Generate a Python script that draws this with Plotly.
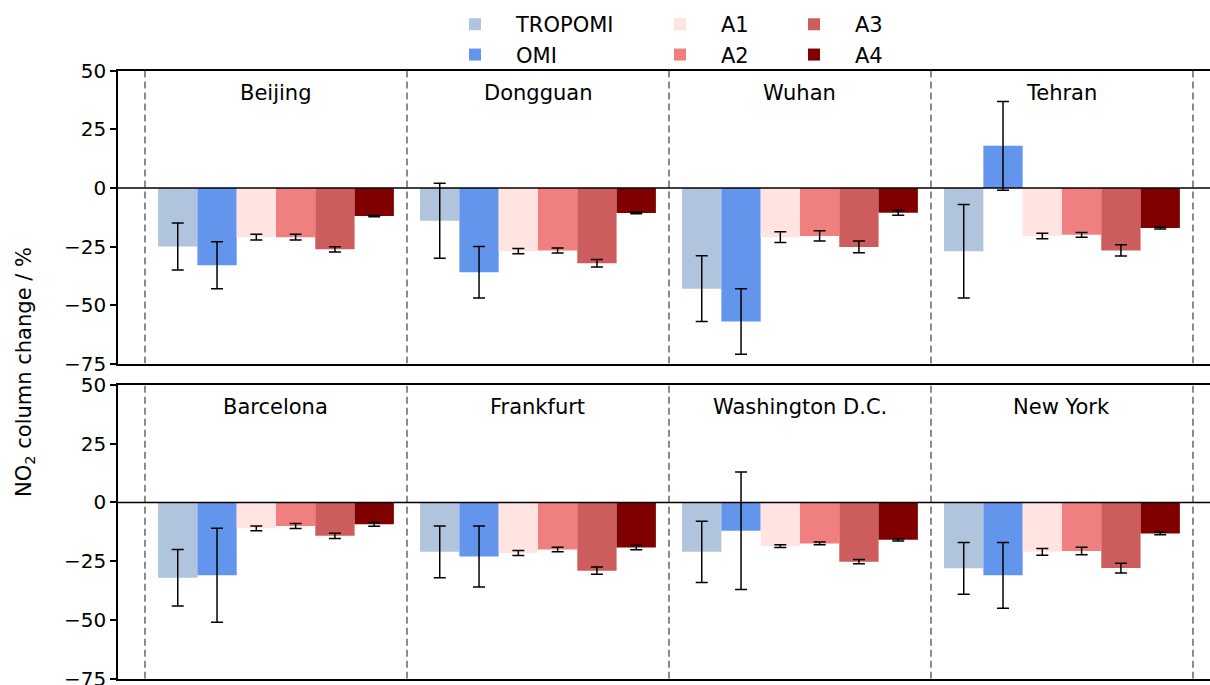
import plotly.graph_objects as go

# ---------------- data ----------------
cities_top = ["Beijing", "Dongguan", "Wuhan", "Tehran"]
cities_bottom = ["Barcelona", "Frankfurt", "Washington D.C.", "New York"]

series_names = ["TROPOMI", "OMI", "A1", "A2", "A3", "A4"]
series_colors = ["#B0C4DE", "#6495ED", "#FFE4E1", "#F08080", "#CD5C5C", "#800000"]

# values: top row cities then bottom row cities
tropomi = [-25, -14, -43, -27, -32, -21, -21, -28]
tropomi_err = [10, 16, 14, 20, 12, 11, 13, 11]
omi = [-33, -36, -57, 18, -31, -23, -12, -31]
omi_err = [10, 11, 14, 19, 20, 13, 25, 14]
a1 = [-21, -27, -21, -20.5, -11, -21.5, -18.6, -21]
a1_err = [1.2, 1.1, 2.3, 1.2, 1.0, 1.1, 0.6, 1.4]
a2 = [-21, -26.7, -20.5, -20, -10, -20, -17.4, -20.6]
a2_err = [1.2, 1.1, 2.2, 1.0, 1.1, 1.0, 0.6, 1.6]
a3 = [-26.2, -32.2, -25.2, -26.7, -14.2, -29, -25.2, -27.9]
a3_err = [1.1, 1.6, 2.5, 2.4, 1.1, 1.5, 0.9, 2.1]
a4 = [-12, -10.7, -10.6, -17.1, -9.3, -19.1, -15.9, -13.2]
a4_err = [0.3, 0.3, 1.0, 0.4, 0.8, 1.0, 0.5, 0.5]

series_values = [tropomi, omi, a1, a2, a3, a4]
series_errors = [tropomi_err, omi_err, a1_err, a2_err, a3_err, a4_err]
legend_ids = ["legend", "legend", "legend2", "legend2", "legend3", "legend3"]

y_ticks = [-75, -50, -25, 0, 25, 50]
y_range = [-75, 50]
label_y = 40.5

# ---------------- figure ----------------
FONT = "DejaVu Sans"
fig = go.Figure()

for k, name in enumerate(series_names):
    for row, (cities, sl) in enumerate([(cities_top, slice(0, 4)), (cities_bottom, slice(4, 8))]):
        fig.add_trace(go.Bar(
            x=cities,
            y=series_values[k][sl],
            error_y=dict(type="data", array=series_errors[k][sl], visible=True,
                         color="black", thickness=1.5, width=6),
            marker=dict(color=series_colors[k], line=dict(width=0)),
            name=name,
            legend=legend_ids[k],
            legendgroup=name,
            showlegend=(row == 0),
            xaxis="x" if row == 0 else "x2",
            yaxis="y" if row == 0 else "y2",
        ))

x_range = [-0.603, 3.565]
xaxis_common = dict(range=x_range, showticklabels=False, ticks="", showgrid=False,
                    zeroline=False, showline=True, mirror=True, linecolor="black",
                    linewidth=1.6, type="category")
yaxis_common = dict(range=y_range, tickvals=y_ticks, ticks="outside", ticklen=6,
                    tickwidth=1.5, tickcolor="black", showgrid=False, zeroline=False,
                    showline=True, mirror=False, linecolor="black", linewidth=1.6,
                    ticklabeloverflow="allow",
                    tickfont=dict(family=FONT, size=20, color="black"))

fig.update_layout(
    width=1210, height=685,
    margin=dict(l=118, r=0, t=0, b=0, autoexpand=False),
    paper_bgcolor="white", plot_bgcolor="white",
    barmode="group", bargap=0.1, bargroupgap=0,
    xaxis=dict(domain=[0, 1], anchor="y", categoryorder="array",
               categoryarray=cities_top, **xaxis_common),
    yaxis=dict(domain=[0.4693, 0.8964], anchor="x", **yaxis_common),
    xaxis2=dict(domain=[0, 1], anchor="y2", categoryorder="array",
                categoryarray=cities_bottom, **xaxis_common),
    yaxis2=dict(domain=[0.0091, 0.4380], anchor="x2", **yaxis_common),
    font=dict(family=FONT, size=21, color="black"),
)

legend_common = dict(orientation="v", xanchor="left", yanchor="top", y=0.994,
                     bgcolor="rgba(0,0,0,0)", itemwidth=72, tracegroupgap=0,
                     font=dict(family=FONT, size=21, color="black"))
fig.update_layout(
    legend=dict(x=0.2894, **legend_common),
    legend2=dict(x=0.4771, **legend_common),
    legend3=dict(x=0.5998, **legend_common),
)

# dashed separators, zero lines, city labels
for xa, ya, cities in [("x", "y", cities_top), ("x2", "y2", cities_bottom)]:
    for i in range(len(cities) + 1):
        fig.add_shape(type="line", xref=xa, yref=ya, x0=i - 0.5, x1=i - 0.5,
                      y0=y_range[0], y1=y_range[1],
                      line=dict(color="#7f7f7f", width=1.8, dash="7px,4px"), layer="above")
    fig.add_shape(type="line", xref=xa + " domain", yref=ya, x0=0, x1=1, y0=0, y1=0,
                  line=dict(color="black", width=1.6), layer="above")
    for i, c in enumerate(cities):
        fig.add_annotation(x=c, y=label_y, xref=xa, yref=ya, text=c, showarrow=False,
                           font=dict(family=FONT, size=21, color="black"),
                           xanchor="center", yanchor="middle")

fig.add_annotation(text="NO<sub>2</sub> column change / %", xref="paper", yref="paper",
                   x=(25 - 118) / 1092, y=1 - 372 / 685, textangle=-90, showarrow=False,
                   xanchor="center", yanchor="middle",
                   font=dict(family=FONT, size=21, color="black"))

fig.write_html("out.html", config={"displayModeBar": False},
               post_script="document.body.style.margin='0px';")
